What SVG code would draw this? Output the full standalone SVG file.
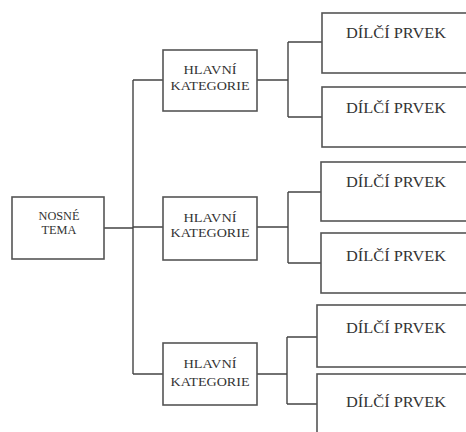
<svg xmlns="http://www.w3.org/2000/svg" width="466" height="432" viewBox="0 0 466 432">
<style>
.box{fill:#ffffff;stroke:#555555;stroke-width:1.6}
.ln{fill:none;stroke:#444444;stroke-width:1.4}
text{fill:#333333;text-anchor:middle;font-family:"Liberation Serif","Times New Roman",serif}
.root{font-size:12px}
.cat{font-size:13px}
.sub{font-size:15px}
</style>
<rect x="0" y="0" width="466" height="432" fill="#ffffff"/>
<g id="connectors" class="ln">
<path d="M104 228H133M133 80V374M133 80H163M133 227H163M133 374H163"/>
<path d="M257 80H288M288 42V117M288 42H322M288 117H322"/>
<path d="M257 227H288M288 192V263M288 192H321M288 263H321"/>
<path d="M257 374H287M287 337V404M287 337H317M287 404H317"/>
</g>
<g id="root">
<rect class="box" x="12" y="197" width="92" height="62"/>
<text class="root" x="59" y="220" textLength="41" lengthAdjust="spacingAndGlyphs">NOSNÉ</text>
<text class="root" x="59" y="234" textLength="35" lengthAdjust="spacingAndGlyphs">TEMA</text>
</g>
<g id="cat1">
<rect class="box" x="163" y="50" width="94" height="61"/>
<text class="cat" x="210" y="74" textLength="53" lengthAdjust="spacingAndGlyphs">HLAVNÍ</text>
<text class="cat" x="210" y="90" textLength="79" lengthAdjust="spacingAndGlyphs">KATEGORIE</text>
</g>
<g id="cat2">
<rect class="box" x="163" y="197" width="94" height="63"/>
<text class="cat" x="210" y="222" textLength="53" lengthAdjust="spacingAndGlyphs">HLAVNÍ</text>
<text class="cat" x="210" y="237" textLength="79" lengthAdjust="spacingAndGlyphs">KATEGORIE</text>
</g>
<g id="cat3">
<rect class="box" x="163" y="343" width="94" height="62"/>
<text class="cat" x="210" y="368" textLength="53" lengthAdjust="spacingAndGlyphs">HLAVNÍ</text>
<text class="cat" x="210" y="386" textLength="79" lengthAdjust="spacingAndGlyphs">KATEGORIE</text>
</g>
<g id="sub1">
<rect class="box" x="322" y="13" width="160" height="60"/>
<text class="sub" x="396" y="38" textLength="100" lengthAdjust="spacingAndGlyphs">DÍLČÍ PRVEK</text>
</g>
<g id="sub2">
<rect class="box" x="322" y="87" width="160" height="60"/>
<text class="sub" x="396" y="113" textLength="100" lengthAdjust="spacingAndGlyphs">DÍLČÍ PRVEK</text>
</g>
<g id="sub3">
<rect class="box" x="321" y="162" width="160" height="59"/>
<text class="sub" x="396" y="187" textLength="100" lengthAdjust="spacingAndGlyphs">DÍLČÍ PRVEK</text>
</g>
<g id="sub4">
<rect class="box" x="321" y="233" width="160" height="60"/>
<text class="sub" x="396" y="261" textLength="100" lengthAdjust="spacingAndGlyphs">DÍLČÍ PRVEK</text>
</g>
<g id="sub5">
<rect class="box" x="317" y="305" width="160" height="62"/>
<text class="sub" x="396" y="333" textLength="100" lengthAdjust="spacingAndGlyphs">DÍLČÍ PRVEK</text>
</g>
<g id="sub6">
<rect class="box" x="317" y="374" width="160" height="70"/>
<text class="sub" x="396" y="407" textLength="100" lengthAdjust="spacingAndGlyphs">DÍLČÍ PRVEK</text>
</g>
</svg>
